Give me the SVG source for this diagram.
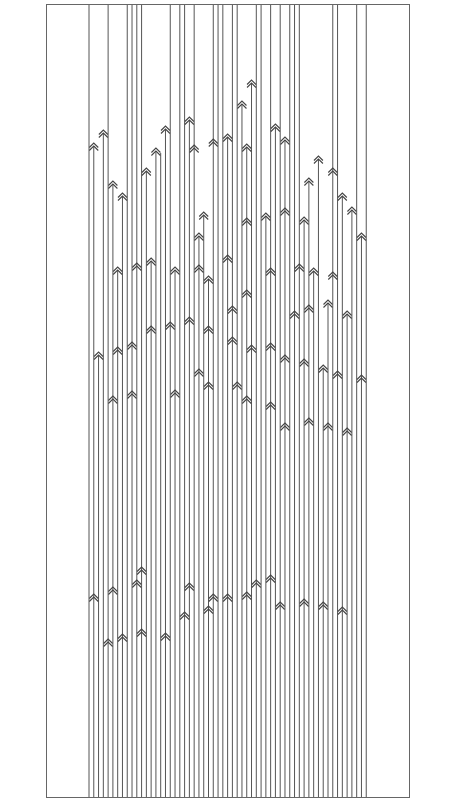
<svg xmlns="http://www.w3.org/2000/svg" xmlns:xlink="http://www.w3.org/1999/xlink" width="450" height="800" viewBox="0 0 450 800">
<defs>
<style>
.ln{stroke:#555;stroke-width:1;fill:none}
.ch{stroke:#444;stroke-width:1.1;fill:none;stroke-linejoin:miter}
.fr{stroke:#666;stroke-width:1;fill:#fff}
</style>
<g id="chev"><polyline class="ch" points="-4.5,4.5 0,0 4.5,4.5"/><polyline class="ch" points="-4.5,7.5 0,3 4.5,7.5"/></g>
</defs>
<rect class="fr" x="46.5" y="4.5" width="363" height="793"/>
<g id="connectors">
<line class="ln" x1="89" y1="797" x2="89" y2="5"/>
<line class="ln" x1="93.78" y1="797" x2="93.78" y2="146"/>
<line class="ln" x1="98.56" y1="797" x2="98.56" y2="355"/>
<line class="ln" x1="103.34" y1="797" x2="103.34" y2="133"/>
<line class="ln" x1="108.12" y1="797" x2="108.12" y2="5"/>
<line class="ln" x1="112.9" y1="797" x2="112.9" y2="184"/>
<line class="ln" x1="117.68" y1="797" x2="117.68" y2="270"/>
<line class="ln" x1="122.46" y1="797" x2="122.46" y2="196"/>
<line class="ln" x1="127.24" y1="797" x2="127.24" y2="5"/>
<line class="ln" x1="132.02" y1="797" x2="132.02" y2="5"/>
<line class="ln" x1="136.8" y1="797" x2="136.8" y2="5"/>
<line class="ln" x1="141.58" y1="797" x2="141.58" y2="5"/>
<line class="ln" x1="146.36" y1="797" x2="146.36" y2="171"/>
<line class="ln" x1="151.14" y1="797" x2="151.14" y2="261"/>
<line class="ln" x1="155.92" y1="797" x2="155.92" y2="151"/>
<line class="ln" x1="160.7" y1="797" x2="160.7" y2="153"/>
<line class="ln" x1="165.48" y1="797" x2="165.48" y2="129"/>
<line class="ln" x1="170.26" y1="797" x2="170.26" y2="5"/>
<line class="ln" x1="175.04" y1="797" x2="175.04" y2="270"/>
<line class="ln" x1="179.82" y1="797" x2="179.82" y2="5"/>
<line class="ln" x1="184.6" y1="797" x2="184.6" y2="5"/>
<line class="ln" x1="189.38" y1="797" x2="189.38" y2="120"/>
<line class="ln" x1="194.16" y1="797" x2="194.16" y2="5"/>
<line class="ln" x1="198.94" y1="797" x2="198.94" y2="236"/>
<line class="ln" x1="203.72" y1="797" x2="203.72" y2="215"/>
<line class="ln" x1="208.5" y1="797" x2="208.5" y2="279"/>
<line class="ln" x1="213.28" y1="797" x2="213.28" y2="5"/>
<line class="ln" x1="218.06" y1="797" x2="218.06" y2="5"/>
<line class="ln" x1="222.84" y1="797" x2="222.84" y2="5"/>
<line class="ln" x1="227.62" y1="797" x2="227.62" y2="137"/>
<line class="ln" x1="232.4" y1="797" x2="232.4" y2="5"/>
<line class="ln" x1="237.18" y1="797" x2="237.18" y2="5"/>
<line class="ln" x1="241.96" y1="797" x2="241.96" y2="104"/>
<line class="ln" x1="246.74" y1="797" x2="246.74" y2="147"/>
<line class="ln" x1="251.52" y1="797" x2="251.52" y2="83"/>
<line class="ln" x1="256.3" y1="797" x2="256.3" y2="5"/>
<line class="ln" x1="261.08" y1="797" x2="261.08" y2="5"/>
<line class="ln" x1="265.86" y1="797" x2="265.86" y2="216"/>
<line class="ln" x1="270.64" y1="797" x2="270.64" y2="5"/>
<line class="ln" x1="275.42" y1="797" x2="275.42" y2="127"/>
<line class="ln" x1="280.2" y1="797" x2="280.2" y2="5"/>
<line class="ln" x1="284.98" y1="797" x2="284.98" y2="140"/>
<line class="ln" x1="289.76" y1="797" x2="289.76" y2="5"/>
<line class="ln" x1="294.54" y1="797" x2="294.54" y2="5"/>
<line class="ln" x1="299.32" y1="797" x2="299.32" y2="5"/>
<line class="ln" x1="304.1" y1="797" x2="304.1" y2="220"/>
<line class="ln" x1="308.88" y1="797" x2="308.88" y2="181"/>
<line class="ln" x1="313.66" y1="797" x2="313.66" y2="271"/>
<line class="ln" x1="318.44" y1="797" x2="318.44" y2="159"/>
<line class="ln" x1="323.22" y1="797" x2="323.22" y2="368"/>
<line class="ln" x1="328" y1="797" x2="328" y2="303"/>
<line class="ln" x1="332.78" y1="797" x2="332.78" y2="5"/>
<line class="ln" x1="337.56" y1="797" x2="337.56" y2="5"/>
<line class="ln" x1="342.34" y1="797" x2="342.34" y2="196"/>
<line class="ln" x1="347.12" y1="797" x2="347.12" y2="314"/>
<line class="ln" x1="351.9" y1="797" x2="351.9" y2="210"/>
<line class="ln" x1="356.68" y1="797" x2="356.68" y2="5"/>
<line class="ln" x1="361.46" y1="797" x2="361.46" y2="236"/>
<line class="ln" x1="366.24" y1="797" x2="366.24" y2="5"/>
</g>
<g id="arrowheads">
<use xlink:href="#chev" x="251.52" y="80"/>
<use xlink:href="#chev" x="241.96" y="101"/>
<use xlink:href="#chev" x="189.38" y="117"/>
<use xlink:href="#chev" x="165.48" y="126"/>
<use xlink:href="#chev" x="275.42" y="124"/>
<use xlink:href="#chev" x="103.34" y="130"/>
<use xlink:href="#chev" x="227.62" y="134"/>
<use xlink:href="#chev" x="213.28" y="139"/>
<use xlink:href="#chev" x="284.98" y="137"/>
<use xlink:href="#chev" x="93.78" y="143"/>
<use xlink:href="#chev" x="194.16" y="145"/>
<use xlink:href="#chev" x="246.74" y="144"/>
<use xlink:href="#chev" x="155.92" y="148"/>
<use xlink:href="#chev" x="318.44" y="156"/>
<use xlink:href="#chev" x="146.36" y="168"/>
<use xlink:href="#chev" x="332.78" y="168"/>
<use xlink:href="#chev" x="308.88" y="178"/>
<use xlink:href="#chev" x="112.9" y="181"/>
<use xlink:href="#chev" x="122.46" y="193"/>
<use xlink:href="#chev" x="342.34" y="193"/>
<use xlink:href="#chev" x="351.9" y="207"/>
<use xlink:href="#chev" x="284.98" y="208"/>
<use xlink:href="#chev" x="203.72" y="212"/>
<use xlink:href="#chev" x="265.86" y="213"/>
<use xlink:href="#chev" x="304.1" y="217"/>
<use xlink:href="#chev" x="246.74" y="218"/>
<use xlink:href="#chev" x="198.94" y="233"/>
<use xlink:href="#chev" x="361.46" y="233"/>
<use xlink:href="#chev" x="227.62" y="255"/>
<use xlink:href="#chev" x="151.14" y="258"/>
<use xlink:href="#chev" x="136.8" y="263"/>
<use xlink:href="#chev" x="117.68" y="267"/>
<use xlink:href="#chev" x="175.04" y="267"/>
<use xlink:href="#chev" x="198.94" y="265"/>
<use xlink:href="#chev" x="299.32" y="264"/>
<use xlink:href="#chev" x="270.64" y="268"/>
<use xlink:href="#chev" x="313.66" y="268"/>
<use xlink:href="#chev" x="332.78" y="272"/>
<use xlink:href="#chev" x="208.5" y="276"/>
<use xlink:href="#chev" x="246.74" y="290"/>
<use xlink:href="#chev" x="232.4" y="306"/>
<use xlink:href="#chev" x="308.88" y="305"/>
<use xlink:href="#chev" x="294.54" y="311"/>
<use xlink:href="#chev" x="328" y="300"/>
<use xlink:href="#chev" x="347.12" y="311"/>
<use xlink:href="#chev" x="189.38" y="317"/>
<use xlink:href="#chev" x="170.26" y="322"/>
<use xlink:href="#chev" x="151.14" y="326"/>
<use xlink:href="#chev" x="208.5" y="326"/>
<use xlink:href="#chev" x="232.4" y="337"/>
<use xlink:href="#chev" x="132.02" y="342"/>
<use xlink:href="#chev" x="117.68" y="347"/>
<use xlink:href="#chev" x="270.64" y="343"/>
<use xlink:href="#chev" x="251.52" y="345"/>
<use xlink:href="#chev" x="98.56" y="352"/>
<use xlink:href="#chev" x="284.98" y="355"/>
<use xlink:href="#chev" x="304.1" y="359"/>
<use xlink:href="#chev" x="323.22" y="365"/>
<use xlink:href="#chev" x="337.56" y="371"/>
<use xlink:href="#chev" x="198.94" y="369"/>
<use xlink:href="#chev" x="361.46" y="375"/>
<use xlink:href="#chev" x="208.5" y="382"/>
<use xlink:href="#chev" x="237.18" y="382"/>
<use xlink:href="#chev" x="132.02" y="391"/>
<use xlink:href="#chev" x="112.9" y="396"/>
<use xlink:href="#chev" x="175.04" y="390"/>
<use xlink:href="#chev" x="246.74" y="396"/>
<use xlink:href="#chev" x="270.64" y="402"/>
<use xlink:href="#chev" x="284.98" y="423"/>
<use xlink:href="#chev" x="308.88" y="418"/>
<use xlink:href="#chev" x="328" y="423"/>
<use xlink:href="#chev" x="347.12" y="428"/>
<use xlink:href="#chev" x="141.58" y="567"/>
<use xlink:href="#chev" x="136.8" y="580"/>
<use xlink:href="#chev" x="189.38" y="583"/>
<use xlink:href="#chev" x="270.64" y="575"/>
<use xlink:href="#chev" x="256.3" y="580"/>
<use xlink:href="#chev" x="93.78" y="594"/>
<use xlink:href="#chev" x="112.9" y="587"/>
<use xlink:href="#chev" x="213.28" y="594"/>
<use xlink:href="#chev" x="227.62" y="594"/>
<use xlink:href="#chev" x="246.74" y="592"/>
<use xlink:href="#chev" x="184.6" y="612"/>
<use xlink:href="#chev" x="208.5" y="606"/>
<use xlink:href="#chev" x="280.2" y="602"/>
<use xlink:href="#chev" x="304.1" y="599"/>
<use xlink:href="#chev" x="323.22" y="602"/>
<use xlink:href="#chev" x="342.34" y="607"/>
<use xlink:href="#chev" x="165.48" y="633"/>
<use xlink:href="#chev" x="141.58" y="629"/>
<use xlink:href="#chev" x="122.46" y="634"/>
<use xlink:href="#chev" x="108.12" y="639"/>
</g>
</svg>
